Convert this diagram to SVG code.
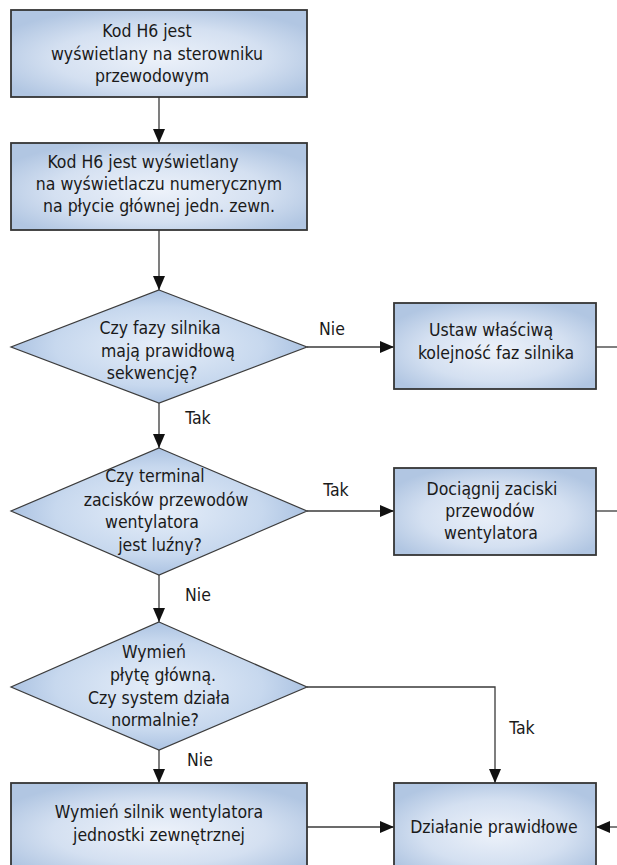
<svg xmlns="http://www.w3.org/2000/svg" width="617" height="865" viewBox="0 0 617 865">
  <defs>
    <radialGradient id="boxFill" cx="0.5" cy="0.55" r="0.6">
      <stop offset="0" stop-color="#edf2fa"/>
      <stop offset="0.6" stop-color="#d4e0f1"/>
      <stop offset="1" stop-color="#b1c6e2"/>
    </radialGradient>
    <radialGradient id="diaFill" cx="0.5" cy="0.5" r="0.5">
      <stop offset="0" stop-color="#e6eef9"/>
      <stop offset="0.7" stop-color="#c7d8ee"/>
      <stop offset="1" stop-color="#acc3e2"/>
    </radialGradient>
    <marker id="arrow" viewBox="0 0 14 12" refX="14" refY="6" markerWidth="14" markerHeight="12" markerUnits="userSpaceOnUse" orient="auto">
      <path d="M0,0 L14,6 L0,12 Z" fill="#111"/>
    </marker>
  </defs>
  <style>
    .box { fill: url(#boxFill); stroke: #353535; stroke-width: 1.8; }
    .dia { fill: url(#diaFill); stroke: #3c3c3c; stroke-width: 1.2; }
    .lbl { font-family: "DejaVu Sans Condensed", "Liberation Sans", Arial, sans-serif; font-size: 17.5px; fill: #1a1a1a; text-anchor: middle; }
    .edge { fill: none; stroke: #3a3a3a; stroke-width: 1.3; }
    .arr { marker-end: url(#arrow); }
  </style>
  <rect width="617" height="865" fill="#ffffff"/>

  <g id="connectors">
    <path class="edge arr" d="M159,97 V143"/>
    <path class="edge arr" d="M159,230 V290"/>
    <path class="edge arr" d="M307,347 H394"/>
    <path class="edge" d="M596,347 H617"/>
    <path class="edge arr" d="M159,403 V448"/>
    <path class="edge arr" d="M307,511 H394"/>
    <path class="edge" d="M596,511 H617"/>
    <path class="edge arr" d="M159,575 V622"/>
    <path class="edge arr" d="M307,687 H495 V783"/>
    <path class="edge arr" d="M159,750 V783"/>
    <path class="edge arr" d="M307,827 H394"/>
    <path class="edge arr" d="M617,827 H596"/>
    <text class="lbl" x="332" y="335">Nie</text>
    <text class="lbl" x="198" y="424">Tak</text>
    <text class="lbl" x="336" y="496">Tak</text>
    <text class="lbl" x="198" y="601">Nie</text>
    <text class="lbl" x="522" y="734">Tak</text>
    <text class="lbl" x="200" y="766">Nie</text>
  </g>

  <g id="start">
    <rect class="box" x="11" y="10" width="296" height="87"/>
    <text class="lbl" x="147" y="37">Kod H6 jest</text>
    <text class="lbl" x="157" y="60">wyświetlany na sterowniku</text>
    <text class="lbl" x="152" y="82">przewodowym</text>
  </g>

  <g id="display">
    <rect class="box" x="11" y="143" width="296" height="87"/>
    <text class="lbl" x="143" y="168">Kod H6 jest wyświetlany</text>
    <text class="lbl" x="159" y="190">na wyświetlaczu numerycznym</text>
    <text class="lbl" x="159" y="212">na płycie głównej jedn. zewn.</text>
  </g>

  <g id="phase-check">
    <polygon class="dia" points="159,290 307,347 159,403 11,347"/>
    <text class="lbl" x="160" y="334">Czy fazy silnika</text>
    <text class="lbl" x="168" y="357">mają prawidłową</text>
    <text class="lbl" x="152" y="379">sekwencję?</text>
  </g>

  <g id="set-phase">
    <rect class="box" x="394" y="303" width="202" height="86"/>
    <text class="lbl" x="491" y="336">Ustaw właściwą</text>
    <text class="lbl" x="496" y="359">kolejność faz silnika</text>
  </g>

  <g id="terminal-check">
    <polygon class="dia" points="159,448 307,511 159,575 11,511"/>
    <text class="lbl" x="155" y="482">Czy terminal</text>
    <text class="lbl" x="166" y="506">zacisków przewodów</text>
    <text class="lbl" x="152" y="528">wentylatora</text>
    <text class="lbl" x="160" y="551">jest luźny?</text>
  </g>

  <g id="tighten">
    <rect class="box" x="394" y="468" width="202" height="87"/>
    <text class="lbl" x="492" y="495">Dociągnij zaciski</text>
    <text class="lbl" x="490" y="517">przewodów</text>
    <text class="lbl" x="491" y="539">wentylatora</text>
  </g>

  <g id="board-check">
    <polygon class="dia" points="159,622 307,687 159,750 11,687"/>
    <text class="lbl" x="154" y="658">Wymień</text>
    <text class="lbl" x="163" y="681">płytę główną.</text>
    <text class="lbl" x="159" y="704">Czy system działa</text>
    <text class="lbl" x="155" y="726">normalnie?</text>
  </g>

  <g id="replace-motor">
    <rect class="box" x="11" y="783" width="296" height="90"/>
    <text class="lbl" x="159" y="818">Wymień silnik wentylatora</text>
    <text class="lbl" x="159" y="841">jednostki zewnętrznej</text>
  </g>

  <g id="ok">
    <rect class="box" x="394" y="783" width="202" height="90"/>
    <text class="lbl" x="494" y="833">Działanie prawidłowe</text>
  </g>
</svg>
